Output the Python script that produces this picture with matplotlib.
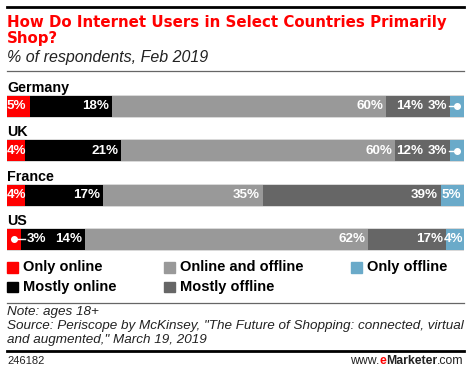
import matplotlib
matplotlib.use("Agg")
import matplotlib.pyplot as plt
from matplotlib.patches import Rectangle
from matplotlib.lines import Line2D

countries = ["Germany", "UK", "France", "US"]
series = ["Only online", "Mostly online", "Online and offline", "Mostly offline", "Only offline"]
only_online = [5, 4, 4, 3]
mostly_online = [18, 21, 17, 14]
online_offline = [60, 60, 35, 62]
mostly_offline = [14, 12, 39, 17]
only_offline = [3, 3, 5, 4]
colors = ["#ff0000", "#000000", "#999999", "#666666", "#6aaac9"]

W, H = 471, 372
plt.rcParams['font.family'] = ['Liberation Sans', 'DejaVu Sans']
fig = plt.figure(figsize=(W / 100, H / 100), dpi=100)


def fx(x):
    return x / W


def fy(y):
    return 1 - y / H


def hline(y, lw, color):
    fig.add_artist(Line2D([fx(7), fx(464)], [fy(y), fy(y)], lw=lw, color=color,
                          transform=fig.transFigure))


hline(7, 2.0, "#000000")
for yy, line in [(27, "How Do Internet Users in Select Countries Primarily"), (42.5, "Shop?")]:
    fig.text(fx(7), fy(yy), line, color="#ff0000", fontsize=10.8, fontweight="bold",
             family=["DejaVu Sans"], va="baseline", ha="left")
fig.text(fx(7), fy(62), "% of respondents, Feb 2019", fontsize=11.5, style="italic",
         va="baseline", ha="left", color="#222222")
hline(70.5, 0.9, "#666666")

# bars axes
spacing = 44.33
top = 106.5 - spacing / 2
bottom = top + 4 * spacing
ax = fig.add_axes([fx(7), fy(bottom), fx(464) - fx(7), (bottom - top) / H])
ax.set_xlim(0, 100)
ax.set_ylim(3.5, -0.5)
ax.axis("off")

data = [only_online, mostly_online, online_offline, mostly_offline, only_offline]
bh = 21 / spacing
ypos = list(range(len(countries)))
ax.barh(ypos, [100] * 4, height=bh + 2 / spacing, color="#d9d9d9", zorder=1)
lefts = [0] * 4
for s, vals in enumerate(data):
    ax.barh(ypos, vals, left=lefts, height=bh, color=colors[s], zorder=2)
    lefts = [l + v for l, v in zip(lefts, vals)]

fs = 9.6
lab = dict(color="white", fontsize=fs, fontweight="bold", va="center", zorder=5,
           textcoords="offset pixels")
for i, c in enumerate(countries):
    ax.text(0, i - bh / 2 - 4 / spacing, c, fontsize=10.3, fontweight="bold",
            va="baseline", ha="left")
    cum = 0
    segs = [d[i] for d in data]
    n = len(segs)
    for s, v in enumerate(segs):
        start, end = cum, cum + v
        cum = end
        ycen = i
        mid = (start + end) / 2
        if v <= 3 and s == n - 1:
            ax.annotate(f"{v}%", xy=(start, ycen), xytext=(-3, 0), ha="right", **lab)
            ax.plot([start - 0.2, mid], [ycen, ycen], color="white", lw=1, zorder=5)
            ax.plot([mid], [ycen], "o", color="white", ms=4, zorder=5)
        elif v <= 3 and s == 0:
            ax.annotate(f"{v}%", xy=(end, ycen), xytext=(6, 0), ha="left", **lab)
            ax.plot([mid, end + 0.9], [ycen, ycen], color="white", lw=1, zorder=5)
            ax.plot([mid], [ycen], "o", color="white", ms=4, zorder=5)
        elif s == 0:
            ax.annotate(f"{v}%", xy=(start, ycen), xytext=(0, 0), ha="left", **lab)
        else:
            off = -3
            if s + 1 == n - 1 and segs[s + 1] <= 3:
                off = -27
            if s == n - 1 and v <= 4:
                off = -1
            ax.annotate(f"{v}%", xy=(end, ycen), xytext=(off, 0), ha="right", **lab)

# legend
leg_pos = [(7, 267.5), (7, 287), (164, 267.5), (164, 287), (351, 267.5)]
for s in range(len(series)):
    x, y = leg_pos[s]
    fig.add_artist(Rectangle((fx(x), fy(y + 5.3)), 10.6 / W, 10.6 / H, color=colors[s],
                             transform=fig.transFigure))
    fig.text(fx(x + 16), fy(y + 3.5), series[s], fontsize=10.5, fontweight="bold",
             va="baseline", ha="left")

hline(302.5, 0.9, "#666666")
nk = dict(fontsize=9.7, style="italic", va="baseline", color="#222222")
fig.text(fx(7), fy(315.5), "Note: ages 18+", **nk)
fig.text(fx(7), fy(329.5), 'Source: Periscope by McKinsey, "The Future of Shopping: connected, virtual', **nk)
fig.text(fx(7), fy(343), 'and augmented," March 19, 2019', **nk)
hline(350.5, 2.0, "#000000")
fig.text(fx(7), fy(364), "246182", fontsize=8, va="baseline", color="#222222")

fsz = 8.8
t1 = fig.text(fx(464), fy(364), ".com", fontsize=fsz, va="baseline", ha="right", color="#222222")
t2 = fig.text(0, 0, "Marketer", fontsize=fsz, fontweight="bold", va="baseline", ha="right", color="#222222")
t3 = fig.text(0, 0, "e", fontsize=fsz, fontweight="bold", va="baseline", ha="right", color="#ff0000")
t4 = fig.text(0, 0, "www.", fontsize=fsz, va="baseline", ha="right", color="#222222")

fig.canvas.draw()
r = fig.canvas.get_renderer()
x = fx(464)
for prev, t in [(t1, t2), (t2, t3), (t3, t4)]:
    bb = prev.get_window_extent(r)
    x -= bb.width / W
    t.set_position((x, fy(364)))

fig.savefig("out.png", dpi=100)
